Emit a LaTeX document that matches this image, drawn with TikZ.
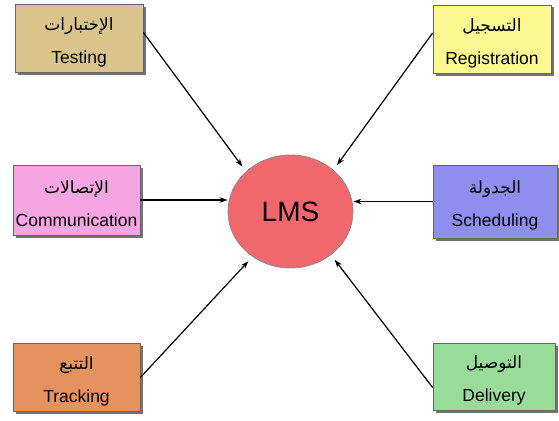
\documentclass[tikz,border=0pt]{standalone}
\usepackage{fontspec}
\setmainfont{Liberation Sans}
\newfontfamily\arabicfont[Script=Arabic]{DejaVu Sans}
\TeXXeTstate=1
\usetikzlibrary{shapes.geometric,shadows,arrows.meta}

\definecolor{testcol}{HTML}{DAC48C}
\definecolor{regcol}{HTML}{FBF791}
\definecolor{commcol}{HTML}{F4A5E2}
\definecolor{schedcol}{HTML}{8E8EEE}
\definecolor{trackcol}{HTML}{E6925F}
\definecolor{delivcol}{HTML}{99DC99}
\definecolor{lmscol}{HTML}{F0676E}

\newcommand{\artext}[1]{{\arabicfont\fontsize{17}{20}\selectfont\rule{0pt}{21pt}\beginR #1\endR}}

\begin{document}
\begin{tikzpicture}[x=1pt, y=-1pt,
                    box/.style={rectangle, draw=black!60, line width=0.8pt, align=center,
                                minimum height=68pt, inner sep=1pt,
                                font=\fontsize{17.5}{33}\selectfont,
                                drop shadow={shadow xshift=2.5pt, shadow yshift=-2.5pt,
                                             fill=black!55, opacity=1}},
                    hub/.style={ellipse, draw=black!45, line width=0.8pt, fill=lmscol,
                                minimum width=125pt, minimum height=113pt,
                                font=\fontsize{28}{32}\selectfont},
                    arr/.style={-{Stealth[length=8pt, width=5.5pt]}, line width=1.2pt}]
  \useasboundingbox[fill=white] (0,0) rectangle (559,420);

  \node[hub] (lms) at (290.5,211.5) {LMS};

  \node[box, fill=testcol, minimum width=128pt] (test) at (79,38.5) {\artext{الإختبارات}\\Testing};
  \node[box, fill=regcol, minimum width=118pt] (reg) at (492,39) {\artext{التسجيل}\\Registration};
  \node[box, fill=commcol, minimum width=127pt, minimum height=70pt] (comm) at (76.5,200) {\artext{الإتصالات}\\Communication};
  \node[box, fill=schedcol, minimum width=124pt, minimum height=73pt] (sched) at (495,201.5) {\artext{الجدولة}\\Scheduling};
  \node[box, fill=trackcol, minimum width=127pt] (track) at (76.5,377.5) {\artext{التتبع}\\Tracking};
  \node[box, fill=delivcol, minimum width=122pt, minimum height=67pt] (deliv) at (494,376.5) {\artext{التوصيل}\\Delivery};

  \draw[arr, shorten >=6pt] ([yshift=6pt]test.east) -- (lms.138);
  \draw[arr, shorten >=6pt] ([yshift=6pt]reg.west) -- (lms.44);
  \draw[arr] (comm.east) -- (comm.east -| lms.west);
  \draw[arr] (sched.west) -- (sched.west -| lms.east);
  \draw[arr, shorten >=6pt] (track.east) -- (lms.230);
  \draw[arr, shorten >=6pt] ([yshift=-11pt]deliv.west) -- (lms.313);
\end{tikzpicture}
\end{document}
